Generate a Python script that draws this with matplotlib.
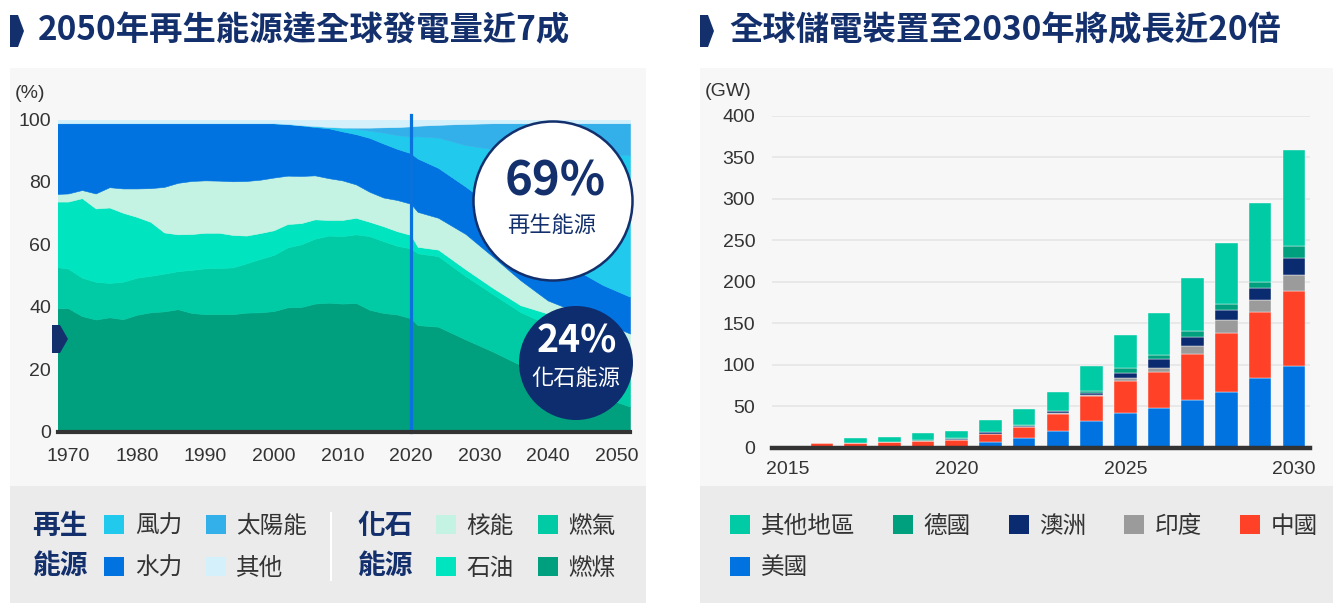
import matplotlib
matplotlib.use("Agg")
import matplotlib.pyplot as plt
from matplotlib.patches import Circle, Patch, Polygon, Rectangle

W, H = 1343, 609
CJK = ["Noto Sans CJK TC", "DejaVu Sans"]
LAT = ["Liberation Sans", "Noto Sans CJK TC", "DejaVu Sans"]
plt.rcParams.update({"font.family": LAT, "text.color": "#333333",
                     "xtick.color": "#333333", "ytick.color": "#333333"})
NAVY = "#13306d"
INK = "#333333"

# ---- left: share of global generation (%) ----
YEARS = [1968, 1970, 1972, 1974, 1976, 1978, 1980, 1982, 1984, 1986, 1988, 1990,
         1992, 1994, 1996, 1998, 2000, 2002, 2004, 2006, 2008, 2010, 2012, 2014,
         2016, 2018, 2020, 2021, 2024, 2028, 2032, 2036, 2040, 2044, 2048, 2052]
COAL = [39.5, 39.5, 37.0, 35.9, 36.6, 36.0, 37.4, 38.2, 38.5, 39.2, 38.0, 37.6,
        37.6, 37.6, 38.1, 38.2, 38.6, 39.8, 39.9, 41.0, 41.3, 41.0, 41.2, 39.0,
        38.0, 37.5, 36.3, 34.1, 33.6, 29.5, 25.6, 21.3, 17.5, 14.0, 11.0, 8.0]
GAS = [13.3, 12.7, 12.3, 12.1, 11.0, 12.0, 11.9, 11.7, 12.1, 12.2, 13.8, 14.7,
       14.8, 15.0, 15.8, 17.1, 18.0, 19.2, 20.1, 20.8, 21.5, 21.6, 22.0, 23.6,
       23.0, 22.0, 22.4, 23.0, 22.6, 20.3, 18.4, 17.0, 16.8, 16.0, 14.5, 13.0]
OIL = [20.9, 21.5, 25.5, 23.5, 24.2, 22.1, 19.5, 17.3, 13.2, 11.8, 11.5, 11.4,
       11.3, 10.4, 8.9, 8.3, 7.9, 7.5, 6.8, 6.2, 5.0, 5.2, 5.3, 4.6,
       4.8, 4.7, 4.3, 2.1, 2.1, 2.2, 2.0, 2.2, 3.5, 3.0, 3.0, 3.0]
NUCLEAR = [2.4, 2.6, 2.6, 4.8, 6.5, 7.8, 9.1, 10.8, 14.6, 16.5, 17.0, 16.8,
           16.7, 17.2, 17.5, 17.1, 16.9, 15.5, 15.1, 14.1, 13.4, 12.7, 10.7, 9.6,
           9.2, 10.0, 10.0, 11.2, 10.2, 11.3, 10.0, 8.0, 4.2, 5.5, 6.5, 7.4]
HYDRO = [22.7, 22.5, 21.4, 22.5, 20.5, 20.9, 20.9, 20.8, 20.4, 19.1, 18.5, 18.3,
         18.4, 18.6, 18.5, 18.1, 17.4, 16.5, 16.2, 15.5, 16.0, 15.7, 16.1, 17.3,
         17.3, 16.4, 16.2, 17.1, 16.0, 15.2, 16.0, 16.5, 16.0, 13.5, 12.0, 11.8]
WIND = [0, 0, 0, 0, 0, 0, 0, 0, 0, 0, 0, 0,
        0, 0, 0, 0, 0.0, 0.1, 0.1, 0.3, 0.4, 1.1, 1.7, 2.3,
        3.5, 4.4, 5.3, 7.1, 9.7, 13.3, 18.5, 24.8, 31.5, 37.2, 41.9, 45.4]
SOLAR = [0, 0, 0, 0, 0, 0, 0, 0, 0, 0, 0, 0,
         0, 0, 0, 0, 0, 0, 0, 0, 0, 0.1, 0.4, 1.0,
         1.7, 2.6, 3.3, 3.4, 4.1, 6.8, 8.3, 9.0, 9.3, 9.6, 9.9, 10.2]
OTHER = [1.2, 1.2, 1.2, 1.2, 1.2, 1.2, 1.2, 1.2, 1.2, 1.2, 1.2, 1.2,
         1.2, 1.2, 1.2, 1.2, 1.2, 1.4, 1.8, 2.1, 2.4, 2.6, 2.6, 2.6,
         2.5, 2.4, 2.2, 2.0, 1.7, 1.4, 1.2, 1.2, 1.2, 1.2, 1.2, 1.2]
MIX_COLORS = {"燃煤": "#00a07f", "燃氣": "#00cba5", "石油": "#00e5bf", "核能": "#c5f3e3",
              "水力": "#0073e1", "風力": "#21caec", "太陽能": "#33afea", "其他": "#d4f0fb"}
MIX_TICKS = [1970, 1980, 1990, 2000, 2010, 2020, 2030, 2040, 2050]

# ---- right: storage capacity (GW) ----
BAR_YEARS = list(range(2015, 2031))
US = [0.3, 0.8, 1.0, 1.0, 1.7, 1.7, 6.8, 12.5, 21.0, 32.0, 42.0, 48.0, 58.0, 68.0, 84.0, 98.8]
CHINA = [0.7, 5.6, 5.4, 5.8, 6.8, 7.6, 10.2, 12.5, 20.0, 30.8, 39.2, 43.2, 55.2, 70.0, 79.2, 90.0]
INDIA = [0, 0, 0, 0, 0, 0.3, 0.3, 0.5, 1.0, 1.5, 2.8, 5.6, 10.0, 16.0, 14.8, 20.0]
AUSTRALIA = [0, 0, 0, 0, 0.3, 1.7, 1.5, 1.5, 2.0, 2.0, 6.0, 10.0, 10.0, 12.0, 14.0, 20.0]
GERMANY = [0, 0, 0, 0.2, 0.3, 0.5, 0.6, 1.0, 1.0, 2.0, 6.0, 5.2, 7.6, 6.8, 8.0, 14.4]
OTHERS = [0, 0, 5.5, 6.8, 8.5, 8.9, 14.8, 19.5, 22.4, 30.8, 40.0, 50.8, 64.4, 74.4, 95.2, 115.6]
REGION_COLORS = {"美國": "#0073e1", "中國": "#ff4127", "印度": "#9b9b9b",
                 "澳洲": "#0b2b70", "德國": "#00a07f", "其他地區": "#00cba5"}


def frac(l, t, r, b):
    return [l / W, 1 - b / H, (r - l) / W, (b - t) / H]


def px_axes(fig, z, name):
    a = fig.add_axes([0, 0, 1, 1], zorder=z, label=name)
    a.set_xlim(0, W); a.set_ylim(H, 0); a.axis("off"); a.patch.set_alpha(0)
    return a


fig = plt.figure(figsize=(W / 100, H / 100), dpi=100, facecolor="white")
bg = px_axes(fig, 0, "bg")
fg = px_axes(fig, 3, "fg")

# panels
for x0, x1 in [(10, 646), (700, 1333)]:
    bg.add_patch(Rectangle((x0, 68), x1 - x0, 418, color="#f7f7f7", lw=0))
    bg.add_patch(Rectangle((x0, 486), x1 - x0, 117, color="#ebebeb", lw=0))
    bg.add_patch(Polygon([(x0, 15), (x0 + 8, 15), (x0 + 14, 31), (x0 + 8, 47), (x0, 47)],
                         color=NAVY, lw=0))
bg.text(38, 31, "2050年再生能源達全球發電量近7成", fontsize=24, fontweight="bold",
        color=NAVY, family=CJK, ha="left", va="center")
bg.text(729, 31, "全球儲電裝置至2030年將成長近20倍", fontsize=24, fontweight="bold",
        color=NAVY, family=CJK, ha="left", va="center")

# ---- left chart ----
ax = fig.add_axes(frac(58, 119.5, 630, 431.5), zorder=1, facecolor="none")
order = ["燃煤", "燃氣", "石油", "核能", "水力", "風力", "太陽能", "其他"]
ax.stackplot(YEARS, COAL, GAS, OIL, NUCLEAR, HYDRO, WIND, SOLAR, OTHER,
             colors=[MIX_COLORS[k] for k in order], lw=0.4, edgecolor="face")
ax.plot([2020, 2020], [0, 101.5], color="#0a72dc", lw=2.3, clip_on=False, zorder=4)
ax.axhline(0, color=INK, lw=3, clip_on=False, zorder=5)
ax.set_xlim(1968.5, 2052); ax.set_ylim(0, 100)
ax.set_xticks(MIX_TICKS); ax.set_yticks(range(0, 101, 20))
ax.tick_params(length=0, labelsize=14)
ax.tick_params(axis="x", pad=12); ax.tick_params(axis="y", pad=5)
for s in ax.spines.values():
    s.set_visible(False)
bg.text(15, 93, "(%)", fontsize=14, ha="left", va="center", color=INK)

# ---- right chart ----
bx = fig.add_axes(frac(772, 115.7, 1310, 448), zorder=1, facecolor="none")
bottom = [0.0] * len(BAR_YEARS)
for name, vals in [("美國", US), ("中國", CHINA), ("印度", INDIA), ("澳洲", AUSTRALIA),
                   ("德國", GERMANY), ("其他地區", OTHERS)]:
    bx.bar(BAR_YEARS, vals, bottom=bottom, width=0.67, color=REGION_COLORS[name],
           edgecolor="#f7f7f7", lw=0.3, zorder=3)
    bottom = [b + v for b, v in zip(bottom, vals)]
bx.axhline(0, color=INK, lw=3.2, clip_on=False, zorder=5)
bx.set_xlim(2014.52, 2030.48); bx.set_ylim(0, 400)
bx.set_yticks(range(0, 401, 50)); bx.set_xticks([2015, 2020, 2025, 2030])
bx.grid(axis="y", color="#e6e6e6", lw=1.2, zorder=0)
bx.tick_params(length=0, labelsize=14)
bx.tick_params(axis="x", pad=9); bx.tick_params(axis="y", pad=12)
for s in bx.spines.values():
    s.set_visible(False)
bg.text(705, 92, "(GW)", fontsize=14, ha="left", va="center", color=INK)

# ---- callouts ----
fg.add_patch(Circle((553, 201), 79.5, facecolor="white", edgecolor=NAVY, lw=1.8))
fg.text(555, 181, "69%", fontsize=34, fontweight="bold", color=NAVY, family=CJK,
        ha="center", va="center")
fg.text(552, 225, "再生能源", fontsize=16, color=NAVY, family=CJK, ha="center", va="center")
fg.add_patch(Circle((576, 363), 57, facecolor="#0d2d6e", edgecolor="none"))
fg.text(577, 341, "24%", fontsize=27, fontweight="bold", color="white", family=CJK,
        ha="center", va="center")
fg.text(576, 378, "化石能源", fontsize=16, color="white", family=CJK, ha="center", va="center")
fg.add_patch(Polygon([(52, 325), (60, 325), (68, 339), (60, 353), (52, 353)], color=NAVY, lw=0))

# ---- legends ----
def sq(c):
    return Patch(facecolor=c, edgecolor="none")


leg_kw = dict(frameon=False, handlelength=0.85, handleheight=0.85, handletextpad=0.45,
              borderpad=0, borderaxespad=0, labelspacing=0.8,
              prop={"family": CJK, "size": 17, "weight": "medium"})
for labels, x in [(["風力", "水力", "太陽能", "其他"], 104), (["核能", "石油", "燃氣", "燃煤"], 436)]:
    fig.legend([sq(MIX_COLORS[k]) for k in labels], labels, ncol=2, loc="center left",
               bbox_to_anchor=(x / W, 1 - 547.5 / H), columnspacing=1.0, **leg_kw)
for t, x in [("再生", 32), ("化石", 357)]:
    bg.text(x, 526, t, fontsize=20, fontweight="bold", color=NAVY, family=CJK, va="center")
    bg.text(x, 566, "能源", fontsize=20, fontweight="bold", color=NAVY, family=CJK, va="center")
bg.plot([331, 331], [513, 580], color="white", lw=1.5)

regions = ["其他地區", "美國", "德國", "澳洲", "印度", "中國"]
fig.legend([sq(REGION_COLORS[k]) for k in regions], regions, ncol=5, loc="center left",
           bbox_to_anchor=(730 / W, 1 - 547.5 / H), columnspacing=1.6, **leg_kw)

fig.savefig("out.png", dpi=100, facecolor="white")
